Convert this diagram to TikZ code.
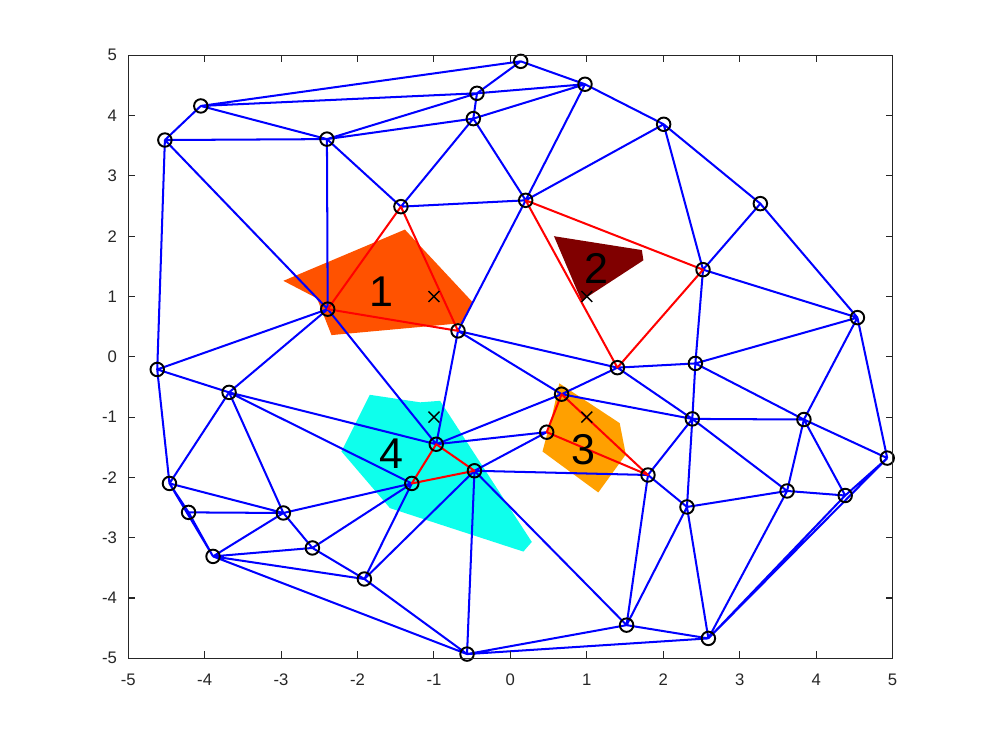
\documentclass[tikz,border=0pt]{standalone}
\usepackage{fontspec}
\setmainfont{Liberation Sans}
\usepackage{xcolor}
\usepackage{tikz}
\usetikzlibrary{shapes.misc}
\definecolor{regionone}{RGB}{255,82,0}
\definecolor{regiontwo}{RGB}{128,0,0}
\definecolor{regionthree}{RGB}{255,160,0}
\definecolor{regionfour}{RGB}{14,255,236}
\definecolor{axisgray}{RGB}{38,38,38}

\begin{document}
\begin{tikzpicture}[x=1.5288cm,y=1.206cm,
  edge/.style={blue,line width=1.15pt},
  tri/.style={red,line width=1.15pt,line join=round},
  vtx/.style={circle,draw=black,line width=1.1pt,minimum size=0.27cm,inner sep=0pt},
  seed/.style={cross out,draw=black,line width=0.8pt,minimum size=0.19cm,inner sep=0pt},
  lbl/.style={font=\fontsize{24.5}{28}\selectfont,inner sep=0pt},
  frame/.style={axisgray,line width=0.6pt},
  ticklbl/.style={font=\fontsize{9.5}{11}\selectfont,text=axisgray,inner sep=1pt}]
  \useasboundingbox (-6.677,-6.355) rectangle (6.222,5.917);
  % Define coordinates
  \path
    (0.135,4.90) coordinate (p1)
    (0.976,4.52) coordinate (p2)
    (-0.437,4.37) coordinate (p3)
    (-0.485,3.95) coordinate (p4)
    (-4.05,4.16) coordinate (p5)
    (-4.52,3.595) coordinate (p6)
    (-2.40,3.61) coordinate (p7)
    (2.005,3.856) coordinate (p8)
    (-1.432,2.49) coordinate (p9)
    (0.20,2.595) coordinate (p10)
    (3.27,2.54) coordinate (p11)
    (2.52,1.445) coordinate (p12)
    (4.54,0.65) coordinate (p13)
    (-2.39,0.79) coordinate (p14)
    (-0.685,0.43) coordinate (p15)
    (-4.62,-0.21) coordinate (p16)
    (1.40,-0.18) coordinate (p17)
    (2.42,-0.11) coordinate (p18)
    (-3.68,-0.59) coordinate (p19)
    (0.67,-0.62) coordinate (p20)
    (0.475,-1.25) coordinate (p21)
    (-0.97,-1.45) coordinate (p22)
    (2.38,-1.03) coordinate (p23)
    (3.84,-1.04) coordinate (p24)
    (-0.47,-1.89) coordinate (p25)
    (-1.29,-2.10) coordinate (p26)
    (1.80,-1.96) coordinate (p27)
    (4.93,-1.68) coordinate (p28)
    (-4.46,-2.10) coordinate (p29)
    (3.62,-2.225) coordinate (p30)
    (4.38,-2.30) coordinate (p31)
    (2.31,-2.49) coordinate (p32)
    (-4.21,-2.58) coordinate (p33)
    (-2.97,-2.59) coordinate (p34)
    (-3.89,-3.31) coordinate (p35)
    (-2.59,-3.17) coordinate (p36)
    (-1.91,-3.685) coordinate (p37)
    (1.52,-4.45) coordinate (p38)
    (2.59,-4.67) coordinate (p39)
    (-0.567,-4.93) coordinate (p40)
  ;
  % Regions
  \fill[regionone] (-2.97,1.26) -- (-1.38,2.11) -- (-0.49,0.90) -- (-0.62,0.56)
    -- (-2.34,0.36) -- (-2.53,0.97) -- cycle;
  \fill[regiontwo] (0.57,2.00) -- (1.72,1.77) -- (1.74,1.60) -- (0.93,0.93) -- cycle;
  \fill[regionthree] (0.64,-0.44) -- (1.43,-1.10) -- (1.51,-1.62) -- (1.15,-2.25)
    -- (0.42,-1.57) -- (0.55,-0.95) -- cycle;
  \fill[regionfour] (-1.84,-0.63) -- (-1.18,-0.755) -- (-0.92,-0.73) -- (0.28,-3.07)
    -- (0.17,-3.23) -- (-1.575,-2.51) -- (-2.21,-1.57) -- cycle;
  % Triangulation
  \draw[edge]
    (p5)--(p1) (p5)--(p3) (p5)--(p7) (p5)--(p6)
    (p6)--(p7) (p6)--(p14) (p6)--(p16)
    (p7)--(p3) (p7)--(p4) (p7)--(p14) (p7)--(p9)
    (p3)--(p1) (p3)--(p2) (p3)--(p4) (p1)--(p2)
    (p4)--(p2) (p4)--(p9) (p4)--(p10)
    (p2)--(p10) (p2)--(p8)
    (p8)--(p10) (p8)--(p11) (p8)--(p12)
    (p11)--(p12) (p11)--(p13)
    (p9)--(p10) (p10)--(p15)
    (p12)--(p13) (p12)--(p18)
    (p13)--(p18) (p13)--(p24) (p13)--(p28)
    (p14)--(p16) (p14)--(p19) (p14)--(p22)
    (p15)--(p22) (p15)--(p20) (p15)--(p17)
    (p16)--(p19) (p16)--(p29)
    (p19)--(p22) (p19)--(p26) (p19)--(p29) (p19)--(p34)
    (p29)--(p33) (p29)--(p34) (p29)--(p35)
    (p33)--(p34) (p33)--(p35)
    (p34)--(p35) (p34)--(p36) (p34)--(p26)
    (p35)--(p36) (p35)--(p37) (p35)--(p40)
    (p36)--(p37) (p36)--(p26)
    (p37)--(p26) (p37)--(p25) (p37)--(p40)
    (p25)--(p40) (p25)--(p21) (p25)--(p27) (p25)--(p38)
    (p22)--(p21) (p22)--(p20)
    (p40)--(p38) (p40)--(p39)
    (p20)--(p17) (p20)--(p23)
    (p17)--(p18) (p17)--(p23)
    (p18)--(p23) (p18)--(p24)
    (p23)--(p24) (p23)--(p27) (p23)--(p30) (p23)--(p32)
    (p24)--(p30) (p24)--(p31) (p24)--(p28)
    (p28)--(p39) (p31)--(p39) (p28)--(p31)
    (p30)--(p31) (p30)--(p32) (p30)--(p39)
    (p27)--(p32) (p27)--(p38)
    (p32)--(p38) (p32)--(p39) (p38)--(p39);
  % Triangles holding the seeds
  \draw[tri] (p9) -- (p14) -- (p15) -- cycle;
  \draw[tri] (p10) -- (p12) -- (p17) -- cycle;
  \draw[tri] (p20) -- (p21) -- (p27) -- cycle;
  \draw[tri] (p22) -- (p26) -- (p25) -- cycle;
  \foreach \p in {1,...,40}
    \node[vtx] (o\p) at (p\p) {};
  \node[seed] (s1) at (-1,1) {};
  \node[seed] (s2) at (1,1) {};
  \node[seed] (s3) at (1,-1) {};
  \node[seed] (s4) at (-1,-1) {};
  \node[lbl] (r1) at (-1.684,1.08) {1};
  \node[lbl] (r2) at (1.129,1.468) {2};
  \node[lbl] (r3) at (0.954,-1.546) {3};
  \node[lbl] (r4) at (-1.553,-1.612) {4};
  % Axes
  \draw[frame] (-5,-5) rectangle (5,5);
  \foreach \t [count=\k] in {-5,...,5} {
    \draw[frame] (\t,-5) -- ++(0,0.116) (\t,5) -- ++(0,-0.116)
      (-5,\t) -- ++(0.092,0) (5,\t) -- ++(-0.092,0);
    \node[ticklbl] (xl\k) at (\t,-5.35) {\t};
    \node[ticklbl,anchor=east] (yl\k) at (-5.12,\t) {\t};
  }
\end{tikzpicture}
\end{document}
